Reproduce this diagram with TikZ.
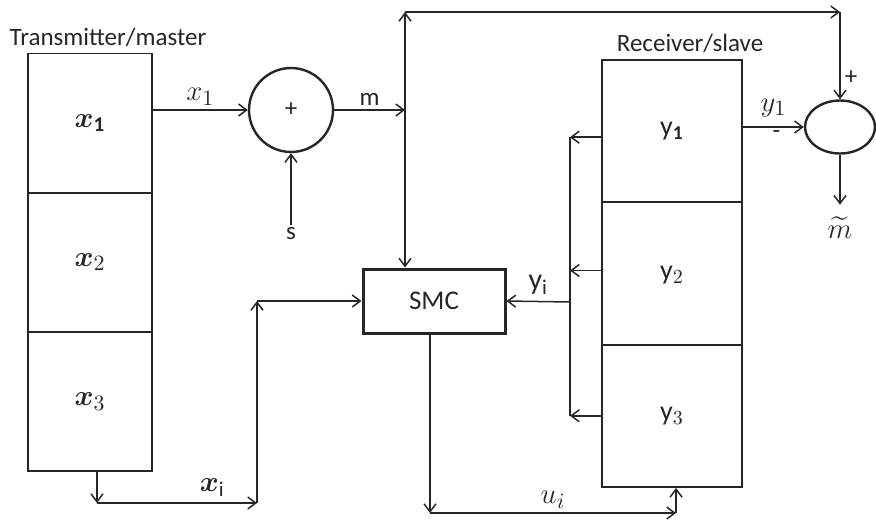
\documentclass[tikz,border=0pt]{standalone}
\usepackage{amsmath,amssymb,bm}
\usepackage{fontspec}
\setmainfont{Carlito}
\usetikzlibrary{arrows.meta,positioning,shapes.geometric}

\begin{document}
\begin{tikzpicture}[
  x=0.5pt, y=-0.5pt,
  every node/.style={font=\fontsize{12.5}{15}\selectfont, inner sep=1pt},
  cell/.style={draw, line width=0.9pt, minimum width=62pt, inner sep=0pt, font=\fontsize{15}{18}\selectfont},
  txcell/.style={cell, minimum height=69.5pt},
  rxcell/.style={cell, minimum width=70pt, minimum height=71.2pt, font=\fontsize{14}{17}\selectfont},
  wire/.style={line width=0.75pt},
  >={Straight Barb[length=4pt,width=6pt]},
  lbl/.style={font=\fontsize{15}{18}\selectfont}
]
\useasboundingbox (0,0) rectangle (876,520);
\begin{scope}[black!85]
% Transmitter/master
\node (txtitle) at (108,37) {Transmitter/master};
\node[txcell] (tx1) at (90,123) {\raisebox{-5pt}{$\bm{x}_{\mathbf{1}}$}};
\node[txcell] (tx2) at (90,262.3) {\raisebox{-3pt}{$\bm{x}_2$}};
\node[txcell] (tx3) at (90,401.6) {\raisebox{-3pt}{$\bm{x}_3$}};

% Summer
\node[circle, draw, line width=1.2pt, minimum size=42pt, inner sep=0pt] (sum) at (291,110) {+};
\node (s) at (291,234) {s};
\coordinate (mj) at (405,110);
\coordinate (tl) at (405,12);
\coordinate (tr) at (840,12);
\draw[wire,->] (tx1.east |- sum.west) -- (sum.west) node[midway, above=1pt, lbl] {$x_1$};
\draw[wire,->] (s.north) -- (sum.south);
\draw[wire,->] (sum.east) -- (mj) node[midway, above=1pt] {m};
\draw[wire,->] (mj) -- (tl);
\draw[wire,->] (tl) -- (tr);

% Receiver/slave
\node (rxtitle) at (690,43) {Receiver/slave};
\node[rxcell] (rx1) at (672,131.2) {\raisebox{-5pt}{$\mathrm{y}_{\mathbf{1}}$}};
\node[rxcell] (rx2) at (672,273.5) {\raisebox{-8pt}{$\mathrm{y}_2$}};
\node[rxcell] (rx3) at (672,415.8) {\raisebox{-6pt}{$\mathrm{y}_3$}};

% Comparator
\node[ellipse, draw, line width=1.2pt, minimum width=35pt, minimum height=26.5pt, inner sep=0pt] (diff) at (840,127) {};
\node (mhat) at (840,228) [lbl] {$\widetilde{m}$};
\draw[wire,->] (tr) -- (diff.north) node[pos=0.75, right=1pt] {+};
\draw[wire,->] (rx1.east |- diff.west) -- (diff.west)
  node[midway, above=3.5pt, lbl] {$y_1$} node[pos=0.55, below=0.5pt] {-};
\draw[wire,->] (diff.south) -- ++(0,50);

% Controller
\node[draw, line width=1.5pt, minimum width=71pt, minimum height=32pt, font=\fontsize{13.5}{16}\selectfont] (smc) at (434,301) {SMC};
\draw[wire,->] (mj) -- (mj |- smc.north);

% state feedback from receiver
\coordinate (bus) at (570,302);
\draw[wire,->] ([yshift=-3pt]rx1.west) -- ([yshift=-3pt]rx1.west -| bus);
\draw[wire,->] ([yshift=1.5pt]rx2.west) -- ([yshift=1.5pt]rx2.west -| bus);
\draw[wire,->] (rx3.west) -- (rx3.west -| bus);
\draw[wire] ([yshift=-3pt]rx1.west -| bus) -- (rx3.west -| bus);
\draw[wire,->] (bus) -- (smc.east) node[midway, above=2pt, lbl] {$\mathrm{y}_{\mathrm{i}}$};

% state from transmitter
\coordinate (xo) at (97,503);
\coordinate (xc) at (257,503);
\draw[wire,->] (tx3.south -| xo) -- (xo);
\draw[wire,->] (xo) -- (xc) node[pos=0.72, above=2pt, lbl] {$\bm{x}_{\mathrm{i}}$};
\draw[wire,->] (xc) -- (xc |- smc.west);
\draw[wire,->] (xc |- smc.west) -- (smc.west);

% control signal
\coordinate (ud) at (430,513);
\coordinate (ur) at (676,513);
\draw[wire,->] (smc.south -| ud) -- (ud);
\draw[wire,->] (ud) -- (ur) node[midway, above=1pt, lbl] {$u_i$};
\draw[wire,->] (ur) -- (ur |- rx3.south);
\end{scope}
\end{tikzpicture}
\end{document}
